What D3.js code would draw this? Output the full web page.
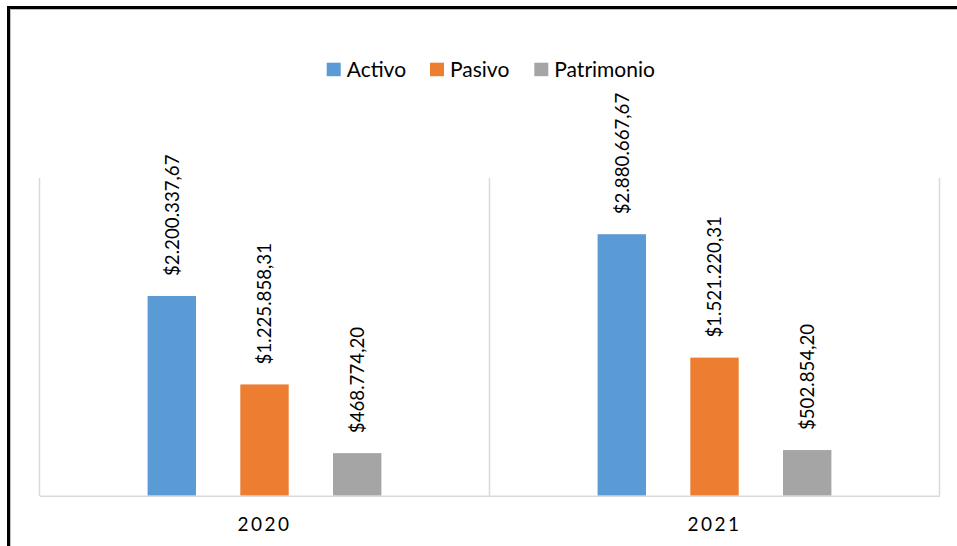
<!DOCTYPE html>
<html>
<head>
<meta charset="utf-8">
<script src="https://cdn.jsdelivr.net/npm/d3@7"></script>
<style>
  html, body { margin: 0; padding: 0; background: #fff; }
  svg { display: block; }
  text { font-family: Lato, "Noto Sans", sans-serif; fill: #000; }
</style>
</head>
<body>
<svg id="chart" width="957" height="546"></svg>
<script>
// Balance general por año
const years = ["2020", "2021"];
const seriesNames = ["Activo", "Pasivo", "Patrimonio"];
const activo = [2200337.67, 2880667.67];
const pasivo = [1225858.31, 1521220.31];
const patrimonio = [468774.20, 502854.20];
const seriesColors = ["#5b9bd5", "#ed7d31", "#a5a5a5"];
const yMax = 3500000;

const seriesValues = [activo, pasivo, patrimonio];
const rows = years.map((yr, i) => ({
  year: yr,
  values: seriesNames.map((s, k) => ({ series: s, value: seriesValues[k][i], color: seriesColors[k] }))
}));

const svg = d3.select("#chart");

// outer frame
svg.append("rect")
  .attr("x", 8.5).attr("y", 7.5).attr("width", 1000).attr("height", 1000)
  .attr("fill", "none").attr("stroke", "#000").attr("stroke-width", 3);
svg.append("rect")
  .attr("x", 10.5).attr("y", 9.5).attr("width", 1000).attr("height", 1000)
  .attr("fill", "none").attr("stroke", "#bfbfbf").attr("stroke-width", 1);

const plotLeft = 39.5, plotRight = 939.5, plotTop = 178, plotBottom = 495.7;

const x0 = d3.scaleBand().domain(years).range([plotLeft, plotRight]).padding(0);
const x1 = d3.scaleBand().domain(seriesNames).range([0, x0.bandwidth()])
  .paddingInner(0.478).paddingOuter(1.166);
const y = d3.scaleLinear().domain([0, yMax]).range([plotBottom, plotTop]);

// category separators
const sepX = years.map(yv => x0(yv)).concat([x0(years[years.length - 1]) + x0.bandwidth()]);
svg.append("g").selectAll("line").data(sepX).join("line")
  .attr("x1", d => d).attr("x2", d => d)
  .attr("y1", plotTop).attr("y2", plotBottom)
  .attr("stroke", "#d9d9d9").attr("stroke-width", 1.5);

// bars
const groups = svg.append("g").selectAll("g").data(rows).join("g")
  .attr("transform", d => `translate(${x0(d.year)},0)`);

groups.selectAll("rect").data(d => d.values).join("rect")
  .attr("x", d => x1(d.series))
  .attr("y", d => y(d.value))
  .attr("width", x1.bandwidth())
  .attr("height", d => plotBottom - y(d.value))
  .attr("fill", d => d.color);

// value labels
const fmt = v => "$" + d3.format(",.2f")(v).replace(/,/g, "#").replace(".", ",").replace(/#/g, ".");
groups.selectAll("text").data(d => d.values).join("text")
  .attr("transform", d => `translate(${x1(d.series) + x1.bandwidth() / 2},${y(d.value) - 20}) rotate(-90)`)
  .attr("text-anchor", "start")
  .attr("dy", "0.36em")
  .style("font-size", "18.7px")
  .text(d => fmt(d.value));

// baseline axis
const xAxis = d3.axisBottom(x0).tickSize(0).tickPadding(22);
const axisG = svg.append("g").attr("transform", `translate(0,${plotBottom})`).call(xAxis);
axisG.select(".domain").attr("stroke", "#d9d9d9").attr("stroke-width", 1.5);
axisG.selectAll("text")
  .style("font-size", "19px")
  .style("letter-spacing", "2.5px")
  .style("font-family", "Lato, 'Noto Sans', sans-serif")
  .attr("fill", "#000");

// legend
const legendItems = [
  { name: "Activo", color: seriesColors[0], x: 326.7 },
  { name: "Pasivo", color: seriesColors[1], x: 430 },
  { name: "Patrimonio", color: seriesColors[2], x: 534.3 }
];
const lg = svg.append("g").selectAll("g").data(legendItems).join("g")
  .attr("transform", d => `translate(${d.x},62.7)`);
lg.append("rect").attr("width", 14).attr("height", 13.5).attr("fill", d => d.color);
lg.append("text").attr("x", 20).attr("y", 14)
  .style("font-size", "21px")
  .text(d => d.name);
</script>
</body>
</html>
